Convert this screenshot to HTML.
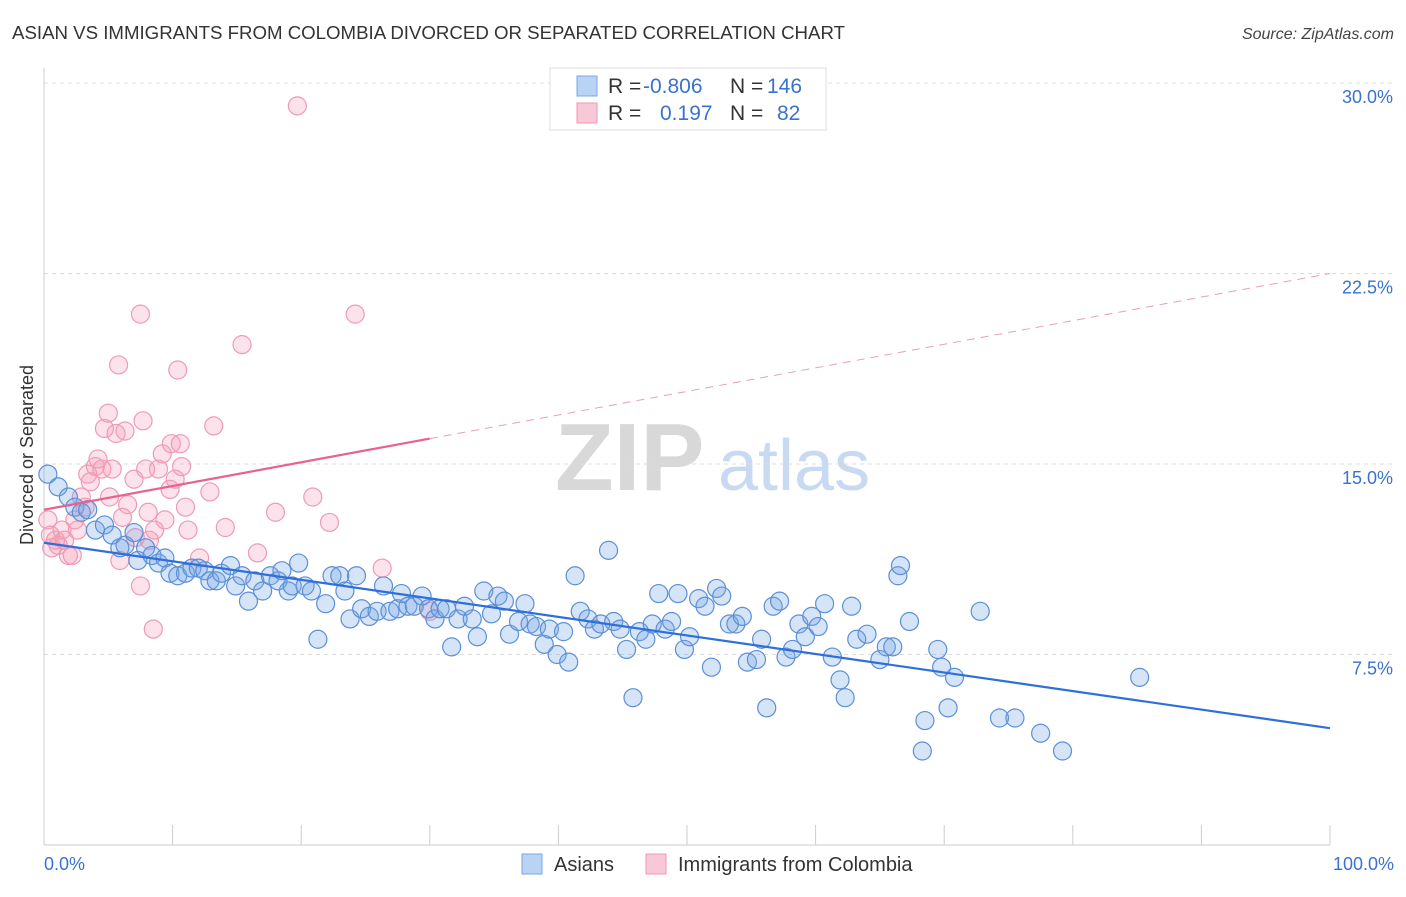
<!DOCTYPE html>
<html><head><meta charset="utf-8"><style>
body{margin:0;background:#fff;font-family:"Liberation Sans",sans-serif;}
svg text{font-family:"Liberation Sans",sans-serif;}
</style></head><body>
<svg id="chart" width="1406" height="892" xmlns="http://www.w3.org/2000/svg">
<text x="12" y="39" font-size="18.6" fill="#333" textLength="833" lengthAdjust="spacingAndGlyphs">ASIAN VS IMMIGRANTS FROM COLOMBIA DIVORCED OR SEPARATED CORRELATION CHART</text>
<text x="1394" y="39" font-size="16" fill="#444" text-anchor="end" font-style="italic">Source: ZipAtlas.com</text>
<g>
<text x="555" y="490" font-size="96" fill="#d8d8d8" font-family="Liberation Serif" font-weight="bold">ZIP</text>
<text x="718" y="490" font-size="72" fill="#c8daf2">atlas</text>
</g>
<g id="grid"></g>
<g id="axes"></g>
<g id="pts"></g>
<g id="trends"></g>
<text transform="translate(33,455) rotate(-90)" font-size="18" fill="#333" text-anchor="middle">Divorced or Separated</text>
<g>
<rect x="550" y="68" width="276" height="62" fill="#fff" stroke="#ddd"/>
<rect x="577" y="76" width="20" height="20" fill="#b9d3f5" stroke="#7aa7e6"/>
<rect x="577" y="103" width="20" height="20" fill="#f9c8d6" stroke="#ef9ab4"/>
<text x="608" y="93" font-size="21" fill="#333">R = </text><text x="643" y="93" font-size="21" fill="#3a72d0">-0.806</text>
<text x="730" y="93" font-size="21" fill="#333">N = </text><text x="767" y="93" font-size="21" fill="#3a72d0">146</text>
<text x="608" y="120" font-size="21" fill="#333">R = </text><text x="660" y="120" font-size="21" fill="#3a72d0">0.197</text>
<text x="730" y="120" font-size="21" fill="#333">N = </text><text x="777" y="120" font-size="21" fill="#3a72d0">82</text>
</g>
<g>
<rect x="522" y="854" width="20" height="20" fill="#b9d3f5" stroke="#7aa7e6"/>
<text x="554" y="871" font-size="20" fill="#333">Asians</text>
<rect x="646" y="854" width="20" height="20" fill="#f9c8d6" stroke="#ef9ab4"/>
<text x="678" y="871" font-size="20" fill="#333">Immigrants from Colombia</text>
</g>
</svg>
<script>
const yTicks=[7.5,15,22.5,30];
const yTickLabels=["7.5%","15.0%","22.5%","30.0%"];
const xTickLabels=["0.0%","100.0%"];
const blueX=[0.3,1.1,1.9,2.4,2.9,3.4,4.0,4.7,5.3,5.9,6.3,7.0,7.3,7.9,8.4,8.9,9.4,9.8,10.4,11.0,11.5,12.0,12.5,12.9,13.4,13.8,14.5,14.9,15.4,15.9,16.4,17.0,17.6,18.2,18.5,19.0,19.3,19.8,20.3,20.8,21.3,21.9,22.4,23.0,23.4,23.8,24.3,24.7,25.3,25.9,26.4,26.9,27.5,27.8,28.3,28.8,29.4,29.9,30.4,30.8,31.3,31.7,32.2,32.7,33.3,33.7,34.2,34.8,35.3,35.8,36.2,36.9,37.4,37.8,38.3,38.9,39.3,39.9,40.4,40.8,41.3,41.7,42.3,42.8,43.3,43.9,44.3,44.8,45.3,45.8,46.3,46.8,47.3,47.8,48.3,48.8,49.3,49.8,50.2,50.9,51.4,51.9,52.3,52.7,53.3,53.8,54.3,54.7,55.4,55.8,56.2,56.7,57.2,57.7,58.2,58.7,59.2,59.7,60.2,60.7,61.3,61.9,62.3,62.8,63.2,64.0,65.0,65.5,66.0,66.4,66.6,67.3,68.5,68.3,69.5,69.8,70.3,70.8,72.8,74.3,75.5,77.5,79.2,85.2];
const blueY=[14.6,14.1,13.7,13.3,13.1,13.2,12.4,12.6,12.2,11.7,11.8,12.3,11.2,11.7,11.4,11.1,11.3,10.7,10.6,10.7,10.9,10.9,10.8,10.4,10.4,10.7,11.0,10.2,10.6,9.6,10.4,10.0,10.6,10.4,10.8,10.0,10.2,11.1,10.2,10.0,8.1,9.5,10.6,10.6,10.0,8.9,10.6,9.3,9.0,9.2,10.2,9.2,9.3,9.9,9.4,9.4,9.8,9.3,8.9,9.3,9.3,7.8,8.9,9.4,8.9,8.2,10.0,9.1,9.8,9.6,8.3,8.8,9.5,8.7,8.6,7.9,8.5,7.5,8.4,7.2,10.6,9.2,8.9,8.5,8.7,11.6,8.8,8.5,7.7,5.8,8.4,8.1,8.7,9.9,8.5,8.8,9.9,7.7,8.2,9.7,9.4,7.0,10.1,9.8,8.7,8.7,9.0,7.2,7.3,8.1,5.4,9.4,9.6,7.4,7.7,8.7,8.2,9.0,8.6,9.5,7.4,6.5,5.8,9.4,8.1,8.3,7.3,7.8,7.8,10.6,11.0,8.8,4.9,3.7,7.7,7.0,5.4,6.6,9.2,5.0,5.0,4.4,3.7,6.6];
const pinkX=[0.3,0.5,0.6,0.9,1.1,1.4,1.6,1.9,2.2,2.4,2.6,2.9,3.2,3.4,3.6,4.0,4.2,4.5,4.7,5.0,5.1,5.3,5.6,5.8,5.9,6.1,6.3,6.5,7.0,7.1,7.5,7.5,7.7,7.9,8.1,8.2,8.5,8.6,8.9,9.2,9.4,9.8,9.9,10.2,10.4,10.6,10.7,11.0,11.2,12.1,12.9,13.2,14.1,15.4,16.6,18.0,19.7,20.9,22.2,24.2,26.3,30.0];
const pinkY=[12.8,12.2,11.7,12.0,11.8,12.4,12.0,11.4,11.4,12.8,12.4,13.7,13.3,14.6,14.3,14.9,15.2,14.8,16.4,17.0,13.7,14.8,16.2,18.9,11.2,12.9,16.3,13.4,14.4,12.1,20.9,10.2,16.7,14.8,13.1,12.0,8.5,12.4,14.8,15.4,12.8,14.0,15.8,14.4,18.7,15.8,14.9,13.3,12.4,11.3,13.9,16.5,12.5,19.7,11.5,13.1,29.1,13.7,12.7,20.9,10.9,9.2];
const blueTrend=[[0,11.9],[100,4.6]];
const pinkTrend=[[0,13.2],[30,16.0],[100,22.5]];
const X0=44,X1=1330,Y0=845,PY=25.4;
const sx=v=>X0+(X1-X0)*v/100, sy=v=>Y0-v*PY;
const NS="http://www.w3.org/2000/svg";
function mk(p,t,a){const e=document.createElementNS(NS,t);for(const k in a)e.setAttribute(k,a[k]);p.appendChild(e);return e;}
const grid=document.getElementById('grid'),axes=document.getElementById('axes'),pts=document.getElementById('pts'),tr=document.getElementById('trends');
yTicks.forEach((v,i)=>{
 const g=mk(grid,'line',{x1:X0,x2:1394,y1:sy(v),y2:sy(v),stroke:'#dcdcdc','stroke-dasharray':'4,4'});
 
 
 const t=mk(axes,'text',{x:1393,y:sy(v)+20,'font-size':18,fill:'#3a72d0','text-anchor':'end'});
 t.textContent=yTickLabels[i];
 
 
});
const xa=mk(axes,'line',{x1:X0,x2:X1,y1:Y0,y2:Y0,stroke:'#ccc'});


const ya=mk(axes,'line',{x1:X0,x2:X0,y1:68,y2:Y0,stroke:'#ccc'});


for(let i=0;i<=10;i++){const t=mk(axes,'line',{x1:sx(i*10),x2:sx(i*10),y1:Y0,y2:Y0-20,stroke:'#ccc'});
 
 }
[[0,'start',X0],[1,'end',1394]].forEach(([i,a,x])=>{const t=mk(axes,'text',{x:x,y:870,'font-size':18,fill:'#3a72d0','text-anchor':a});t.textContent=xTickLabels[i];
 
 });
pinkX.forEach((x,i)=>{const c=mk(pts,'circle',{cx:sx(x),cy:sy(pinkY[i]),r:9,fill:'rgba(244,160,186,0.3)',stroke:'#ef9ab4','stroke-width':1.2});
 
 });
blueX.forEach((x,i)=>{const c=mk(pts,'circle',{cx:sx(x),cy:sy(blueY[i]),r:9,fill:'rgba(120,165,230,0.3)',stroke:'#5b8fd8','stroke-width':1.2});
 
 });
const bl=mk(tr,'line',{x1:sx(blueTrend[0][0]),y1:sy(blueTrend[0][1]),x2:sx(blueTrend[1][0]),y2:sy(blueTrend[1][1]),stroke:'#2f6fdb','stroke-width':2.2});


const pl=mk(tr,'line',{x1:sx(pinkTrend[0][0]),y1:sy(pinkTrend[0][1]),x2:sx(pinkTrend[1][0]),y2:sy(pinkTrend[1][1]),stroke:'#e8628f','stroke-width':2.2});


const pd=mk(tr,'line',{x1:sx(pinkTrend[1][0]),y1:sy(pinkTrend[1][1]),x2:sx(pinkTrend[2][0]),y2:sy(pinkTrend[2][1]),stroke:'#e8a0b8','stroke-width':1,'stroke-dasharray':'8,6'});


</script>
</body></html>
